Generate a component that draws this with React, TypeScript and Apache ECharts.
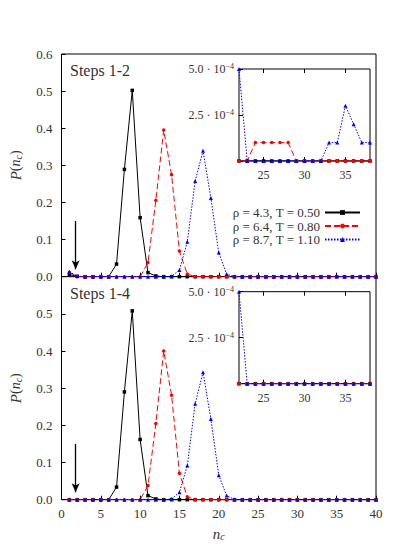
import React, { useEffect, useRef } from "react";
import * as echarts from "echarts";

const nValues = [1, 2, 3, 4, 5, 6, 7, 8, 9, 10, 11, 12, 13, 14, 15, 16, 17, 18, 19, 20,
  21, 22, 23, 24, 25, 26, 27, 28, 29, 30, 31, 32, 33, 34, 35, 36, 37, 38, 39, 40];

const seriesNames = ["ρ = 4.3, T = 0.50", "ρ = 6.4, T = 0.80", "ρ = 8.7, T = 1.10"];

// Steps 1-2
const black12 = [0.006, 0.001, 0, 0, 0, 0, 0.034, 0.289, 0.502, 0.159, 0.011, 0.002, 0, 0, 0, 0, 0, 0, 0, 0,
  0, 0, 0, 0, 0, 0, 0, 0, 0, 0, 0, 0, 0, 0, 0, 0, 0, 0, 0, 0];
const red12 = [0.012, 0, 0, 0, 0, 0, 0, 0, 0, 0, 0.038, 0.206, 0.395, 0.275, 0.069, 0.007, 0, 0, 0, 0,
  0, 0, 0, 0.0001, 0.0001, 0.0001, 0.0001, 0.0001, 0, 0, 0, 0, 0, 0, 0, 0, 0, 0, 0, 0];
const blue12 = [0.013, 0.002, 0, 0, 0, 0, 0, 0, 0, 0, 0, 0, 0, 0.001, 0.018, 0.094, 0.258, 0.339, 0.212, 0.065,
  0.007, 0.0005, 0, 0, 0, 0, 0, 0, 0, 0, 0, 0, 0.0001, 0.0001, 0.0003, 0.0002, 0.0001, 0.0001, 0, 0];

// Steps 1-4
const black14 = [0, 0, 0, 0, 0, 0, 0.034, 0.29, 0.508, 0.162, 0.011, 0.002, 0, 0, 0, 0, 0, 0, 0, 0,
  0, 0, 0, 0, 0, 0, 0, 0, 0, 0, 0, 0, 0, 0, 0, 0, 0, 0, 0, 0];
const red14 = [0, 0, 0, 0, 0, 0, 0, 0, 0, 0, 0.038, 0.205, 0.4, 0.281, 0.071, 0.008, 0, 0, 0, 0,
  0, 0, 0, 0, 0, 0, 0, 0, 0, 0, 0, 0, 0, 0, 0, 0, 0, 0, 0, 0];
const blue14 = [0, 0, 0, 0, 0, 0, 0, 0, 0, 0, 0, 0, 0, 0.002, 0.02, 0.092, 0.258, 0.343, 0.217, 0.066,
  0.011, 0.0005, 0, 0, 0, 0, 0, 0, 0, 0, 0, 0, 0, 0, 0, 0, 0, 0, 0, 0];

const panelLabels = ["Steps 1-2", "Steps 1-4"];
const arrowX = 1.8;
const arrowTop = 0.15;
const arrowTip = 0.02;

const FONT = "Liberation Serif";
const TXT = "#333";
const colors = ["#000000", "#ff0000", "#0000ff"];
const symbols = ["rect", "circle", "triangle"];
const symbolSizes = [3.5, 3.5, 4];
const lineTypes: any[] = ["solid", [6, 3], [1.5, 1.5]];

function pairs(vals: number[]) {
  return nValues.map((n, i) => [n, vals[i]]);
}

export default function App() {
  const ref = useRef<HTMLDivElement>(null);
  useEffect(() => {
    if (!ref.current) return;
    const chart = echarts.init(ref.current, null, { renderer: "svg" });
    const grids = [
      { left: 60.5, top: 54, width: 315.5, height: 222.7 },
      { left: 60.5, top: 276.7, width: 315.5, height: 223 },
      { left: 239, top: 69, width: 131, height: 92 },
      { left: 239, top: 291.7, width: 131, height: 92 },
    ].map((g) => ({ ...g, show: true, borderColor: "#000", borderWidth: 1, backgroundColor: "#fff" }));

    const axisLabel = { fontFamily: FONT, fontSize: 13, color: TXT };
    const xAxes: any[] = [];
    const yAxes: any[] = [];
    for (let p = 0; p < 2; p++) {
      xAxes.push({
        type: "value", gridIndex: p, min: 0, max: 40, interval: 5,
        axisLine: { show: false }, splitLine: { show: false },
        axisTick: { show: true, inside: true, length: 4, lineStyle: { color: "#000" } },
        axisLabel: { ...axisLabel, show: p === 1, margin: 7 },
        name: p === 1 ? "{i|n}{s|c}" : "", nameLocation: "middle", nameGap: 26,
        nameTextStyle: { fontFamily: FONT, fontSize: 14, color: TXT,
          rich: { i: { fontStyle: "italic", fontSize: 15, fontFamily: FONT, color: TXT },
                  s: { fontStyle: "italic", fontSize: 10, fontFamily: FONT, color: TXT, padding: [6, 0, 0, 0] } } },
      });
      yAxes.push({
        type: "value", gridIndex: p, min: 0, max: 0.6, interval: 0.1,
        axisLine: { show: false }, splitLine: { show: false },
        axisTick: { show: true, inside: true, length: 4, lineStyle: { color: "#000" } },
        axisLabel: { ...axisLabel, margin: 9,
          formatter: (v: number) => (p === 1 && v > 0.55 ? "" : v.toFixed(1)) },
        name: "{i|P}({n|n}{s|c})", nameLocation: "middle", nameGap: 38, nameRotate: 90,
        nameTextStyle: { fontFamily: FONT, fontSize: 14, color: TXT,
          rich: { i: { fontStyle: "italic", fontSize: 15, fontFamily: FONT, color: TXT },
                  n: { fontStyle: "italic", fontSize: 14, fontFamily: FONT, color: TXT },
                  s: { fontStyle: "italic", fontSize: 10, fontFamily: FONT, color: TXT, padding: [6, 0, 0, 0] } } },
      });
    }
    for (let p = 0; p < 2; p++) {
      xAxes.push({
        type: "value", gridIndex: 2 + p, min: 22, max: 38, interval: 5,
        axisLine: { show: false }, splitLine: { show: false },
        axisTick: { show: true, inside: true, length: 4, lineStyle: { color: "#000" },
          customValues: [25, 30, 35] },
        axisLabel: { ...axisLabel, fontSize: 12, margin: 8, customValues: [25, 30, 35] },
      });
      xAxes.push({
        type: "value", gridIndex: 2 + p, min: 22, max: 38, position: "top",
        axisLine: { show: false }, splitLine: { show: false },
        axisTick: { show: true, inside: true, length: 4, lineStyle: { color: "#000" },
          customValues: [25, 30, 35] },
        axisLabel: { show: false },
      });
      yAxes.push({
        type: "value", gridIndex: 2 + p, min: 0, max: 0.0005, interval: 0.00025,
        axisLine: { show: false }, splitLine: { show: false },
        axisTick: { show: true, inside: true, length: 4, lineStyle: { color: "#000" } },
        axisLabel: {
          ...axisLabel, fontSize: 12, margin: 5,
          formatter: (v: number) => (v === 0 ? "" : `{m|${(v * 1e4).toFixed(1)} · 10}{s|−4}`),
          rich: {
            m: { fontFamily: FONT, fontSize: 12, color: TXT },
            s: { fontFamily: FONT, fontSize: 8, color: TXT, padding: [0, 0, 5, 0] },
          },
        },
      });
    }
    const data = [[black12, red12, blue12], [black14, red14, blue14]];
    const series: any[] = [];
    for (let p = 0; p < 2; p++) {
      for (let s = 0; s < 3; s++) {
        series.push({
          type: "line", name: seriesNames[s], xAxisIndex: p, yAxisIndex: p,
          data: pairs(data[p][s]), symbol: symbols[s], symbolSize: symbolSizes[s],
          showAllSymbol: true, clip: true,
          lineStyle: { color: colors[s], width: 1, type: lineTypes[s] },
          itemStyle: { color: colors[s] },
          z: 3 + s,
          markLine: s === 0 ? {
            silent: true, symbol: ["none", "arrow"], symbolSize: [6, 9],
            label: { show: false },
            lineStyle: { color: "#000", type: "solid", width: 1.3 },
            data: [[{ coord: [arrowX, arrowTop] }, { coord: [arrowX, arrowTip] }]],
          } : undefined,
        });
      }
      for (let s = 0; s < 3; s++) {
        series.push({
          type: "line", name: seriesNames[s], xAxisIndex: p === 0 ? 2 : 4, yAxisIndex: 2 + p,
          data: pairs(data[p][s]), symbol: symbols[s], symbolSize: symbolSizes[s],
          showAllSymbol: true, clip: true,
          lineStyle: { color: colors[s], width: 1, type: lineTypes[s] },
          itemStyle: { color: colors[s] },
          z: 3 + s,
        });
      }
    }

    chart.setOption({
      animation: false,
      backgroundColor: "#fff",
      grid: grids,
      xAxis: xAxes,
      yAxis: yAxes,
      legend: {
        data: seriesNames, orient: "vertical", align: "right", right: 33, top: 201,
        itemWidth: 35, itemHeight: 6, itemGap: 0.5,
        textStyle: { fontFamily: FONT, fontSize: 13, color: TXT, lineHeight: 11 },
      },
      graphic: panelLabels.map((t, i) => ({
        type: "text", left: 70, top: i === 0 ? 62 : 285,
        style: { text: t, fontFamily: FONT, fontSize: 16, fill: TXT },
      })),
      series,
    });
    return () => chart.dispose();
  }, []);
  return <div ref={ref} style={{ position: "fixed", left: 0, top: 0, width: 399, height: 553 }} />;
}
